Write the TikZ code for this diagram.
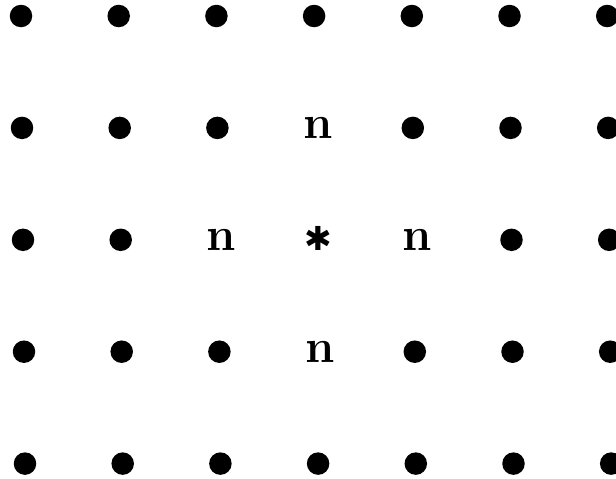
\documentclass[tikz,border=0pt]{standalone}
\usepackage{fontspec}
\newfontfamily\starfont{DejaVu Sans}
\begin{document}
\begin{tikzpicture}[x=1pt,y=-1pt,
  dotnode/.style={circle,fill=black,inner sep=0pt,minimum size=22.5pt},
  letternode/.style={inner sep=0pt,font=\fontsize{47}{47}\selectfont\bfseries},
  starnode/.style={inner sep=0pt,font=\starfont\fontsize{33}{33}\selectfont}]
\useasboundingbox (0,0) rectangle (616,479);
\foreach \r in {0,...,4}{
  \foreach \c in {0,...,6}{
    \pgfmathsetmacro{\xx}{21+97.7*\c+\r}
    \pgfmathsetmacro{\yy}{16+111.9*\r}
    \pgfmathtruncatemacro{\code}{10*\r+\c}
    \ifnum\code=13
      \node[letternode] (p-\r-\c) at (\xx+3,\yy) {n};
    \else\ifnum\code=22
      \node[letternode] (p-\r-\c) at (\xx+3,\yy) {n};
    \else\ifnum\code=23
      \node[starnode] (p-\r-\c) at (\xx+2,\yy-1) {✱};
    \else\ifnum\code=24
      \node[letternode] (p-\r-\c) at (\xx+3,\yy) {n};
    \else\ifnum\code=33
      \node[letternode] (p-\r-\c) at (\xx+3,\yy) {n};
    \else
      \node[dotnode] (p-\r-\c) at (\xx,\yy) {};
    \fi\fi\fi\fi\fi
  }
}
\end{tikzpicture}
\end{document}
